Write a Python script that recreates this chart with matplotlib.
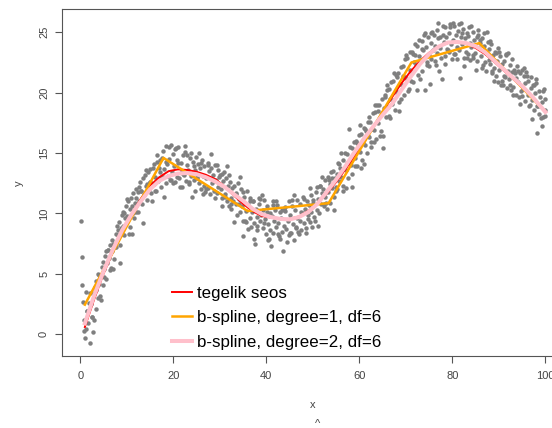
import matplotlib
matplotlib.use("Agg")
import matplotlib.pyplot as plt

plt.rcParams["font.family"] = ["Liberation Sans", "DejaVu Sans"]

point_x = [
    0.2, 0.3, 0.4, 0.6, 0.8, 0.9,
    1.2, 1.3, 1.5, 1.7, 1.9,
    2.1, 2.3, 2.6, 2.7, 2.9,
    3.1, 3.3, 3.5, 3.8, 3.9,
    4.1, 4.3, 4.6, 4.8, 4.9,
    5.1, 5.3, 5.6, 5.8, 5.9,
    6.2, 6.4, 6.6, 6.8, 6.9,
    7.1, 7.3, 7.6, 7.8, 7.9,
    8.1, 8.4, 8.5, 8.7, 8.9,
    9.2, 9.3, 9.5, 9.7, 9.9,
    10.1, 10.3, 10.6, 10.8, 10.9,
    11.2, 11.4, 11.5, 11.8, 11.9,
    12.1, 12.4, 12.6, 12.7, 12.9,
    13.1, 13.3, 13.5, 13.8, 13.9,
    14.2, 14.4, 14.5, 14.7, 14.9,
    15.1, 15.3, 15.6, 15.8, 15.9,
    16.1, 16.4, 16.5, 16.7, 16.9,
    17.2, 17.3, 17.6, 17.8, 17.9,
    18.1, 18.4, 18.5, 18.7, 18.9,
    19.1, 19.3, 19.6, 19.8, 19.9,
    20.2, 20.4, 20.5, 20.7, 20.9,
    21.1, 21.3, 21.6, 21.8, 21.9,
    22.2, 22.4, 22.5, 22.7, 22.9,
    23.1, 23.3, 23.6, 23.8, 23.9,
    24.2, 24.4, 24.6, 24.7, 24.9,
    25.1, 25.3, 25.6, 25.8, 25.9,
    26.2, 26.3, 26.6, 26.7, 26.9,
    27.1, 27.4, 27.5, 27.7, 27.9,
    28.2, 28.3, 28.6, 28.8, 28.9,
    29.1, 29.4, 29.6, 29.7, 29.9,
    30.2, 30.4, 30.5, 30.7, 30.9,
    31.1, 31.3, 31.6, 31.8, 31.9,
    32.2, 32.4, 32.5, 32.7, 32.9,
    33.1, 33.4, 33.5, 33.7, 33.9,
    34.2, 34.3, 34.6, 34.8, 34.9,
    35.1, 35.3, 35.6, 35.7, 35.9,
    36.1, 36.4, 36.5, 36.8, 36.9,
    37.2, 37.3, 37.5, 37.7, 37.9,
    38.1, 38.4, 38.6, 38.7, 38.9,
    39.2, 39.3, 39.6, 39.8, 39.9,
    40.1, 40.4, 40.5, 40.7, 40.9,
    41.2, 41.4, 41.5, 41.7, 41.9,
    42.1, 42.3, 42.6, 42.8, 42.9,
    43.2, 43.4, 43.7, 43.8, 43.9,
    44.1, 44.3, 44.6, 44.8, 44.9,
    45.2, 45.3, 45.5, 45.7, 45.9,
    46.1, 46.4, 46.6, 46.7, 46.9,
    47.2, 47.3, 47.5, 47.8, 47.9,
    48.1, 48.4, 48.5, 48.7, 48.9,
    49.2, 49.4, 49.6, 49.7, 49.9,
    50.1, 50.3, 50.6, 50.8, 50.9,
    51.2, 51.4, 51.5, 51.7, 51.9,
    52.1, 52.4, 52.6, 52.7, 52.9,
    53.2, 53.3, 53.6, 53.8, 53.9,
    54.1, 54.4, 54.5, 54.7, 54.9,
    55.2, 55.3, 55.6, 55.7, 55.9,
    56.1, 56.4, 56.5, 56.8, 56.9,
    57.1, 57.3, 57.6, 57.7, 57.9,
    58.2, 58.4, 58.5, 58.8, 58.9,
    59.1, 59.3, 59.6, 59.7, 59.9,
    60.1, 60.4, 60.5, 60.7, 60.9,
    61.2, 61.3, 61.6, 61.8, 61.9,
    62.1, 62.4, 62.5, 62.7, 62.9,
    63.2, 63.3, 63.6, 63.8, 63.9,
    64.1, 64.3, 64.6, 64.8, 64.9,
    65.1, 65.4, 65.5, 65.7, 65.9,
    66.1, 66.4, 66.6, 66.7, 66.9,
    67.2, 67.3, 67.6, 67.8, 67.9,
    68.1, 68.4, 68.5, 68.7, 68.9,
    69.2, 69.4, 69.6, 69.7, 69.9,
    70.1, 70.3, 70.6, 70.8, 70.9,
    71.2, 71.4, 71.5, 71.7, 71.9,
    72.1, 72.3, 72.6, 72.8, 72.9,
    73.2, 73.4, 73.5, 73.7, 73.9,
    74.2, 74.3, 74.6, 74.7, 74.9,
    75.1, 75.4, 75.5, 75.7, 75.9,
    76.2, 76.3, 76.6, 76.8, 76.9,
    77.0, 77.3, 77.5, 77.7, 77.9,
    78.1, 78.4, 78.5, 78.7, 78.9,
    79.2, 79.3, 79.6, 79.8, 79.9,
    80.1, 80.4, 80.5, 80.7, 80.9,
    81.2, 81.4, 81.7, 81.8, 81.9,
    82.1, 82.3, 82.6, 82.7, 82.9,
    83.2, 83.4, 83.5, 83.8, 83.9,
    84.1, 84.4, 84.5, 84.7, 84.9,
    85.2, 85.3, 85.6, 85.8, 85.9,
    86.1, 86.4, 86.6, 86.7, 86.9,
    87.2, 87.3, 87.6, 87.8, 87.9,
    88.1, 88.4, 88.5, 88.7, 88.9,
    89.2, 89.3, 89.6, 89.8, 89.9,
    90.1, 90.3, 90.6, 90.7, 90.9,
    91.2, 91.4, 91.5, 91.7, 91.9,
    92.1, 92.4, 92.6, 92.8, 92.9,
    93.1, 93.3, 93.6, 93.7, 93.9,
    94.2, 94.3, 94.5, 94.8, 94.9,
    95.1, 95.4, 95.6, 95.7, 95.9,
    96.2, 96.3, 96.6, 96.8, 96.9,
    97.1, 97.4, 97.5, 97.7, 97.9,
    98.1, 98.3, 98.6, 98.7, 98.9,
    99.2, 99.3, 99.5, 99.7, 99.9,
    100.0, 100.0,
]
point_y = [
    9.4, 6.4, 4.1, 2.7, 0.3, 1.2,
    0.4, 3.5, 1.9, 0.9, 2.6,
    -0.7, 2.5, 1.4, 0.2, 3.4,
    3.9, 2.1, 4.4, 3.0, 5.0,
    4.9, 3.2, 5.6, 4.1, 6.0,
    5.4, 6.5, 4.6, 5.9, 7.0,
    6.3, 7.4, 5.5, 6.9, 7.8,
    7.5, 6.2, 8.3, 7.2, 9.0,
    8.2, 9.3, 7.4, 8.8, 9.9,
    9.0, 10.1, 8.2, 9.6, 10.6,
    9.8, 11.0, 8.9, 10.4, 11.3,
    10.6, 11.7, 9.6, 10.9, 12.0,
    11.3, 10.1, 12.2, 11.0, 12.6,
    11.9, 10.8, 12.9, 11.5, 13.2,
    12.3, 11.1, 13.4, 12.0, 13.7,
    12.6, 11.7, 13.8, 12.4, 14.1,
    13.0, 11.9, 14.3, 12.7, 13.8,
    13.4, 12.2, 14.6, 13.0, 15.2,
    13.7, 12.5, 15.6, 14.1, 13.1,
    14.5, 12.8, 15.7, 13.4, 14.9,
    13.9, 12.6, 15.4, 14.4, 13.0,
    15.5, 12.9, 14.2, 13.5, 12.2,
    14.8, 13.2, 15.1, 12.7, 14.0,
    13.6, 12.4, 14.6, 13.1, 15.0,
    14.3, 12.8, 13.6, 11.9, 14.7,
    13.0, 14.1, 12.5, 13.8, 12.0,
    14.4, 13.1, 12.3, 13.9, 11.8,
    12.9, 14.2, 12.1, 13.5, 11.6,
    13.8, 12.5, 13.2, 11.9, 14.0,
    12.8, 11.7, 13.6, 12.2, 13.0,
    12.0, 13.3, 11.3, 12.7, 13.4,
    11.6, 12.9, 11.0, 12.3, 10.6,
    12.6, 11.3, 10.4, 12.1, 11.0,
    12.3, 10.8, 11.6, 9.9, 12.5,
    11.2, 10.1, 12.0, 10.6, 9.4,
    8.1, 11.4, 10.2, 9.3, 11.9,
    10.7, 9.6, 11.3, 8.9, 10.1,
    11.0, 9.2, 7.5, 10.4, 9.7,
    8.6, 10.8, 9.4, 11.2, 9.9,
    10.3, 8.8, 11.1, 9.5, 8.3,
    10.6, 9.1, 7.9, 10.0, 8.6,
    9.8, 11.0, 8.4, 9.4, 10.3,
    8.9, 10.7, 9.2, 8.1, 10.1,
    9.6, 8.5, 6.9, 10.4, 9.0,
    10.2, 8.7, 9.4, 11.0, 8.2,
    9.9, 8.4, 10.6, 9.1, 7.8,
    10.3, 8.8, 9.6, 11.1, 8.5,
    9.4, 10.8, 8.6, 10.0, 11.4,
    9.2, 10.4, 8.8, 11.0, 9.9,
    10.7, 9.3, 11.5, 10.1, 8.9,
    10.9, 9.7, 11.8, 10.3, 12.2,
    11.2, 10.0, 12.3, 10.8, 11.7,
    12.0, 10.6, 11.4, 12.8, 10.9,
    11.8, 13.0, 10.9, 12.4, 13.4,
    12.1, 13.5, 11.4, 12.9, 11.9,
    13.3, 12.0, 14.1, 12.7, 13.8,
    13.0, 14.4, 12.3, 13.7, 15.0,
    13.6, 14.9, 12.9, 17.0, 14.3,
    14.0, 15.4, 13.3, 14.8, 15.9,
    14.6, 16.0, 13.9, 15.3, 16.5,
    15.1, 16.6, 14.4, 15.8, 17.1,
    15.7, 17.0, 15.0, 16.4, 17.6,
    16.3, 17.6, 15.5, 17.0, 18.3,
    16.9, 18.4, 16.2, 17.6, 19.0,
    17.5, 19.0, 16.8, 18.3, 19.5,
    15.4, 18.7, 19.8, 18.0, 20.2,
    18.8, 20.3, 17.9, 19.5, 20.9,
    19.4, 21.0, 18.6, 20.1, 21.5,
    20.0, 21.6, 19.2, 20.7, 22.1,
    20.6, 22.2, 19.8, 21.3, 22.8,
    21.2, 22.9, 20.3, 21.9, 23.4,
    21.8, 23.4, 20.9, 22.5, 24.0,
    22.3, 23.9, 21.5, 23.0, 24.4,
    22.7, 24.3, 21.8, 23.5, 24.8,
    20.2, 23.8, 22.5, 24.6, 23.1,
    20.7, 24.1, 22.8, 25.0, 23.5,
    23.9, 22.6, 25.2, 23.3, 24.5,
    25.8, 23.7, 22.9, 21.1, 24.8,
    24.2, 25.4, 23.0, 24.6, 23.6,
    24.9, 23.4, 25.7, 24.0, 22.8,
    24.4, 25.5, 23.2, 24.8, 23.8,
    25.1, 23.5, 21.2, 24.6, 25.8,
    24.0, 25.3, 22.9, 24.5, 23.4,
    24.9, 23.2, 25.4, 24.1, 22.7,
    23.8, 25.0, 22.9, 24.4, 23.3,
    24.6, 22.6, 25.2, 23.7, 24.1,
    23.0, 24.5, 22.3, 23.9, 24.9,
    23.3, 21.8, 24.2, 22.7, 23.6,
    22.4, 24.0, 21.6, 23.1, 22.0,
    23.4, 21.4, 22.6, 20.9, 23.7,
    21.9, 23.0, 21.0, 22.4, 20.6,
    22.6, 21.3, 23.1, 20.4, 21.8,
    21.1, 22.3, 20.2, 21.7, 22.8,
    20.5, 21.9, 19.8, 21.2, 22.2,
    20.9, 19.6, 21.6, 20.1, 21.9,
    20.3, 21.4, 19.3, 20.8, 21.7,
    19.8, 21.0, 19.0, 20.4, 21.3,
    19.4, 20.6, 18.6, 20.0, 21.1,
    18.9, 16.7, 20.1, 18.2, 19.6,
    17.2, 19.2, 18.0, 20.3, 18.6,
    19.5, 18.1,
]

# more of the cloud, the wider-spread points (two per unit of x)
extra_x = [
    1.45, 1.05, 2.45, 2.05, 3.45, 3.05, 4.45, 4.05, 5.45, 5.05,
    6.45, 6.05, 7.45, 7.05, 8.45, 8.05, 9.45, 9.05, 10.45, 10.05,
    11.45, 11.05, 12.45, 12.05, 13.45, 13.05, 14.45, 14.05, 15.45, 15.05,
    16.45, 16.05, 17.45, 17.05, 18.45, 18.05, 19.45, 19.05, 20.45, 20.05,
    21.45, 21.05, 22.45, 22.05, 23.45, 23.05, 24.45, 24.05, 25.45, 25.05,
    26.45, 26.05, 27.45, 27.05, 28.45, 28.05, 29.45, 29.05, 30.45, 30.05,
    31.45, 31.05, 32.45, 32.05, 33.45, 33.05, 34.45, 34.05, 35.45, 35.05,
    36.45, 36.05, 37.45, 37.05, 38.45, 38.05, 39.45, 39.05, 40.45, 40.05,
    41.45, 41.05, 42.45, 42.05, 43.45, 43.05, 44.45, 44.05, 45.45, 45.05,
    46.45, 46.05, 47.45, 47.05, 48.45, 48.05, 49.45, 49.05, 50.45, 50.05,
    51.45, 51.05, 52.45, 52.05, 53.45, 53.05, 54.45, 54.05, 55.45, 55.05,
    56.45, 56.05, 57.45, 57.05, 58.45, 58.05, 59.45, 59.05, 60.45, 60.05,
    61.45, 61.05, 62.45, 62.05, 63.45, 63.05, 64.45, 64.05, 65.45, 65.05,
    66.45, 66.05, 67.45, 67.05, 68.45, 68.05, 69.45, 69.05, 70.45, 70.05,
    71.45, 71.05, 72.45, 72.05, 73.45, 73.05, 74.45, 74.05, 75.45, 75.05,
    76.45, 76.05, 77.45, 77.05, 78.45, 78.05, 79.45, 79.05, 80.45, 80.05,
    81.45, 81.05, 82.45, 82.05, 83.45, 83.05, 84.45, 84.05, 85.45, 85.05,
    86.45, 86.05, 87.45, 87.05, 88.45, 88.05, 89.45, 89.05, 90.45, 90.05,
    91.45, 91.05, 92.45, 92.05, 93.45, 93.05, 94.45, 94.05, 95.45, 95.05,
    96.45, 96.05, 97.45, 97.05, 98.45, 98.05, 99.45, 99.05,
]
extra_y = [
    1.9, -0.3, 1.4, 3.4, 3.7, 1.2, 2.8, 4.2, 6.9, 4.7,
    5.3, 7.0, 7.2, 5.4, 5.9, 8.6, 10.0, 8.3, 8.3, 11.2,
    10.0, 8.3, 11.8, 10.1, 9.2, 11.9, 12.4, 13.6, 11.0, 12.6,
    14.8, 11.9, 12.9, 14.4, 14.3, 11.4, 12.8, 15.5, 15.3, 12.5,
    12.2, 14.2, 15.6, 13.3, 12.6, 14.8, 13.9, 11.4, 15.0, 12.9,
    11.6, 14.2, 14.0, 12.0, 12.7, 14.9, 14.0, 11.3, 10.6, 13.2,
    13.9, 11.4, 10.8, 13.2, 11.7, 9.3, 13.0, 10.8, 9.4, 11.8,
    11.0, 8.7, 7.9, 11.0, 11.3, 9.0, 9.2, 11.5, 7.8, 10.1,
    10.7, 7.3, 8.3, 11.0, 10.3, 7.9, 7.6, 10.5, 11.1, 8.4,
    8.9, 11.5, 10.1, 8.3, 8.4, 11.2, 12.1, 9.5, 9.4, 11.1,
    12.3, 9.0, 10.8, 13.0, 12.8, 10.4, 10.3, 12.9, 14.2, 12.2,
    11.9, 15.0, 14.2, 12.1, 12.2, 15.5, 15.8, 13.9, 13.8, 17.3,
    16.8, 14.1, 15.9, 18.0, 19.0, 15.9, 16.4, 18.5, 19.6, 16.4,
    18.1, 20.6, 21.6, 19.1, 18.5, 21.3, 21.4, 19.5, 20.1, 23.1,
    23.2, 21.0, 20.2, 23.1, 23.6, 21.1, 22.3, 24.9, 24.9, 22.2,
    22.3, 24.8, 24.6, 21.8, 22.4, 25.5, 25.4, 23.5, 23.2, 25.8,
    25.7, 22.8, 22.2, 24.9, 24.7, 22.9, 23.1, 25.5, 24.8, 21.9,
    22.0, 24.4, 25.0, 22.5, 21.8, 24.3, 23.3, 21.0, 20.6, 23.4,
    23.2, 21.4, 20.6, 23.3, 21.6, 19.8, 19.1, 21.8, 22.0, 19.7,
    18.9, 21.4, 20.6, 17.8, 18.9, 20.8, 20.1, 17.9,
]

# true relationship ("tegelik seos")
true_x = [1, 3, 5, 7, 9, 11, 13, 15, 17, 19, 21, 23, 25, 27, 29, 31, 33,
          35, 37, 39, 41, 43, 45, 47, 49, 51, 53, 55, 57, 59, 61, 63, 65,
          67, 69, 71, 73, 75, 77, 79, 81, 83, 85, 87, 89, 91, 93, 95, 97,
          99, 100]
true_y = [0.6, 2.9, 5.0, 6.8, 8.5, 9.9, 11.2, 12.3, 13.0, 13.5, 13.65,
          13.6, 13.45, 13.2, 12.85, 12.25, 11.5, 10.8, 10.2, 9.8, 9.65,
          9.55, 9.55, 9.75, 10.2, 10.85, 11.65, 12.6, 13.65, 14.75, 15.9,
          17.15, 18.4, 19.6, 20.75, 21.75, 22.6, 23.3, 23.8, 24.1, 24.2,
          24.05, 23.7, 23.2, 22.55, 21.85, 21.15, 20.45, 19.7, 18.9, 18.5]

# linear b-spline fit (degree=1, df=6): knots of the polyline
deg1_x = [1.0, 17.9, 36.0, 53.4, 71.2, 85.8, 100.0]
deg1_y = [2.45, 14.6, 10.2, 10.85, 22.5, 24.1, 18.4]

# quadratic b-spline fit (degree=2, df=6)
deg2_x = true_x
deg2_y = [0.9, 3.2, 5.2, 7.0, 8.6, 9.9, 11.0, 12.0, 12.7, 13.1, 13.3,
          13.35, 13.25, 13.0, 12.65, 12.2, 11.6, 11.05, 10.4, 9.95, 9.7,
          9.55, 9.5, 9.7, 10.1, 10.8, 11.8, 12.8, 13.9, 15.1, 16.2, 17.2,
          18.15, 19.05, 20.2, 21.3, 22.35, 23.2, 23.8, 24.15, 24.2, 24.1,
          23.85, 23.35, 22.65, 21.95, 21.25, 20.55, 19.75, 18.85, 18.4]

labels = ["tegelik seos", "b-spline, degree=1, df=6", "b-spline, degree=2, df=6"]

W, H = 552, 428
fig = plt.figure(figsize=(W / 100, H / 100), dpi=100)
# plot region runs past the right edge of the picture, as in the reference
ax = fig.add_axes([61.6 / W, 72 / H, (564 - 61.6) / W, (356 - 9.3) / H])

dot_style = dict(color="#7f7f7f", markersize=3.2, markeredgewidth=0, zorder=1)
ax.plot(point_x, point_y, "o", **dot_style)
ax.plot(extra_x, extra_y, "o", **dot_style)
l_true, = ax.plot(true_x, true_y, color="red", linewidth=1.4, zorder=2)
l_deg1, = ax.plot(deg1_x, deg1_y, color="orange", linewidth=1.8, zorder=3)
l_deg2, = ax.plot(deg2_x, deg2_y, color="pink", linewidth=2.9, zorder=4)

ax.set_xlim(-4, 104)
ax.set_ylim(-1.8, 26.9)
ax.set_xticks([0, 20, 40, 60, 80, 100])
ax.set_yticks([0, 5, 10, 15, 20, 25])

frame_col = "#555555"
for sp in ax.spines.values():
    sp.set_color(frame_col)
    sp.set_linewidth(0.8)
ax.tick_params(axis="both", direction="out", length=5, width=0.8,
               color=frame_col, labelcolor="#444444", labelsize=8)
ax.tick_params(axis="x", pad=6)
ax.tick_params(axis="y", pad=4)
for lab in ax.get_yticklabels():
    lab.set_rotation(90)
    lab.set_va("center")

fig.text(312.8 / W, 1 - 405 / H, "x", ha="center", va="center",
         fontsize=8, color="#444444")
fig.text(19 / W, 1 - 183 / H, "y", ha="center", va="center",
         rotation=90, fontsize=8, color="#444444")
fig.text(318 / W, 1 - 419 / H, "^", ha="center", va="top",
         fontsize=8, color="#444444")

ax.legend([l_true, l_deg1, l_deg2], labels, loc="upper left",
          bbox_to_anchor=(172 / W, 1 - 286 / H), bbox_transform=fig.transFigure,
          frameon=False, fontsize=12.2, handlelength=1.2, handletextpad=0.25,
          labelspacing=0.55, borderpad=0, borderaxespad=0)

fig.savefig("out.png", dpi=100)
